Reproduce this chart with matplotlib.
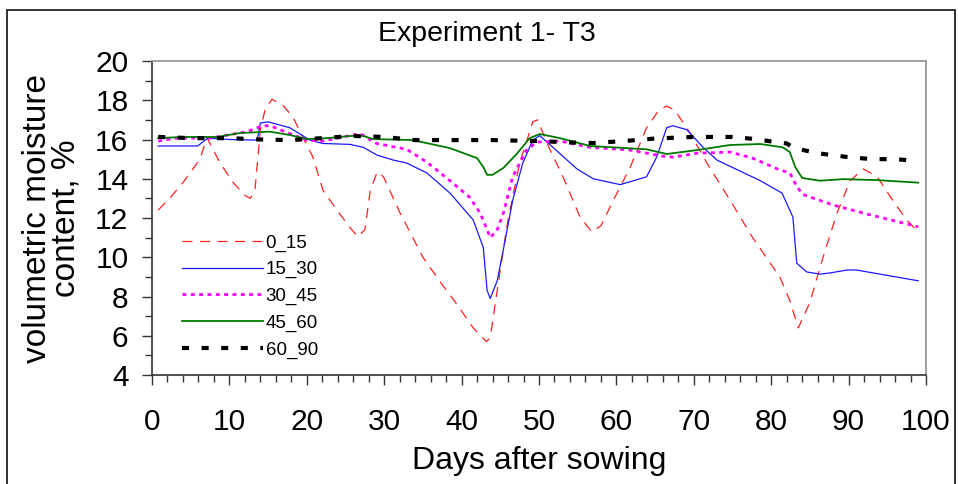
import matplotlib
matplotlib.use("Agg")
import matplotlib.pyplot as plt
from matplotlib.ticker import MultipleLocator
from matplotlib.patches import Rectangle

plt.rcParams['font.family'] = ['Liberation Sans', 'DejaVu Sans']

# ---- data ----
days_0_15 = [0.8, 2.5, 4.0, 6.2, 7.1, 8.8, 10.5, 12.0, 12.7, 13.3, 14.0, 14.6, 15.5, 16.9, 18.2,
             19.5, 20.8, 22.1, 23.9, 25.6, 26.6, 27.5, 28.2, 29.1, 29.9, 32.0, 35.0, 37.5, 39.4,
             41.5, 43.2, 43.7, 44.6, 45.9, 47.5, 49.2, 49.8, 51.4, 53.1, 55.3, 56.8, 58.0, 59.6,
             61.8, 63.9, 65.5, 66.5, 67.5, 69.1, 71.7, 74.7, 77.6, 81.1, 82.4, 83.5, 85.0, 86.7,
             88.5, 90.2, 91.9, 93.7, 95.7, 97.5, 99.0]
vals_0_15 = [12.4, 13.1, 13.8, 15.0, 16.1, 14.8, 13.8, 13.15, 13.0, 13.4, 16.5, 17.5, 18.05, 17.75, 17.15,
             16.1, 15.1, 13.4, 12.4, 11.5, 11.05, 11.4, 13.4, 14.35, 14.1, 12.3, 10.0, 8.6, 7.6,
             6.4, 5.7, 5.9, 8.3, 11.7, 14.8, 16.9, 17.0, 15.5, 14.1, 12.05, 11.3, 11.6, 12.9,
             14.6, 16.6, 17.5, 17.7, 17.5, 16.6, 14.8, 12.9, 11.0, 9.0, 7.8, 6.4, 7.7, 10.0,
             12.25, 13.9, 14.5, 14.1, 12.9, 11.9, 11.3]

days_15_30 = [0.8, 5.9, 7.2, 10.0, 13.6, 14.0, 15.0, 17.8, 20.4, 22.0, 25.6, 27.3, 29.1, 31.2, 32.9,
              35.5, 38.5, 41.5, 42.8, 43.3, 43.7, 44.6, 45.4, 46.6, 47.9, 49.2, 50.1, 51.8, 54.9,
              57.0, 60.5, 63.9, 65.2, 66.5, 67.3, 69.1, 71.2, 73.0, 78.6, 81.4, 82.8, 83.3, 84.6,
              86.3, 87.6, 89.8, 91.0, 99.0]
vals_15_30 = [15.67, 15.67, 16.07, 16.0, 15.97, 16.84, 16.9, 16.6, 15.97, 15.8, 15.75, 15.6, 15.2, 14.95, 14.8,
              14.3, 13.27, 11.9, 10.5, 8.3, 7.9, 8.8, 10.4, 12.9, 14.8, 15.97, 16.2, 15.6, 14.5,
              14.0, 13.7, 14.1, 15.1, 16.6, 16.7, 16.5, 15.6, 14.95, 13.9, 13.27, 12.05, 9.7, 9.25,
              9.14, 9.2, 9.35, 9.35, 8.8]

days_30_45 = [0.8, 3.2, 7.5, 12.3, 14.3, 15.3, 17.8, 20.0, 22.0, 23.9, 26.9, 29.0, 32.9, 35.5, 38.5,
              41.0, 42.4, 43.3, 43.7, 44.6, 45.4, 46.6, 48.4, 49.7, 52.7, 56.6, 61.8, 66.0, 67.3,
              70.4, 74.7, 77.6, 81.1, 82.4, 83.3, 84.1, 88.0, 92.4, 97.5, 99.0]
vals_30_45 = [15.92, 16.07, 16.07, 16.4, 16.7, 16.7, 16.3, 15.97, 15.92, 16.07, 16.3, 15.8, 15.5, 14.85, 13.9,
              13.07, 12.25, 11.4, 11.0, 11.4, 12.25, 14.1, 15.46, 15.87, 15.92, 15.6, 15.46, 15.15, 15.1,
              15.3, 15.36, 15.05, 14.45, 14.3, 13.6, 13.2, 12.66, 12.2, 11.7, 11.55]

days_45_60 = [0.8, 4.0, 8.4, 11.4, 14.0, 15.2, 17.8, 20.0, 22.6, 25.6, 27.3, 28.6, 33.7, 38.5, 42.0,
              42.8, 43.3, 44.0, 45.4, 47.2, 48.8, 50.1, 52.7, 56.6, 63.9, 66.5, 70.4, 74.7, 78.6,
              81.5, 82.4, 83.1, 84.0, 86.3, 89.3, 93.7, 99.0]
vals_45_60 = [16.07, 16.13, 16.13, 16.33, 16.38, 16.4, 16.23, 16.02, 16.07, 16.18, 16.18, 16.02, 15.97, 15.56, 15.05,
              14.6, 14.2, 14.2, 14.55, 15.3, 16.07, 16.28, 16.07, 15.67, 15.5, 15.26, 15.46, 15.72, 15.77,
              15.6, 15.36, 14.6, 14.04, 13.9, 13.98, 13.93, 13.8]

days_60_90 = [0.8, 5.0, 10.0, 14.0, 18.0, 22.0, 26.0, 30.0, 34.0, 44.0, 50.0, 54.0, 57.0, 61.0, 65.0,
              70.0, 75.0, 78.0, 80.0, 82.0, 83.0, 86.0, 88.0, 90.0, 93.0, 96.0, 99.0]
vals_60_90 = [16.13, 16.07, 16.07, 16.0, 15.97, 16.07, 16.18, 16.13, 15.97, 15.97, 15.92, 15.85, 15.82, 15.92, 16.05,
              16.13, 16.13, 16.02, 15.9, 15.8, 15.56, 15.3, 15.2, 15.1, 15.0, 15.0, 14.9]

labels = ["0_15", "15_30", "30_45", "45_60", "60_90"]
title = "Experiment 1- T3"
xlabel = "Days after sowing"
ylabel = "volumetric moisture\ncontent, %"

# ---- figure ----
fig = plt.figure(figsize=(9.58, 4.84), dpi=100)
ax = fig.add_axes([152/958, 1-375/484, (926-152)/958, (375-61)/484])

ax.plot(days_0_15, vals_0_15, color='#FF2020', lw=0.9, dashes=(8, 6), label=labels[0])
ax.plot(days_15_30, vals_15_30, color='#1a1aff', lw=0.9, label=labels[1])
ax.plot(days_30_45, vals_30_45, color='#FF00FF', lw=2.0, dashes=(1.4, 1.6), label=labels[2])
ax.plot(days_45_60, vals_45_60, color='#007a00', lw=1.3, label=labels[3])
ax.plot(days_60_90, vals_60_90, color='black', lw=3.0, dashes=(1.7, 3.0), label=labels[4])

ax.set_xlim(0, 100)
ax.set_ylim(4, 20)
ax.xaxis.set_major_locator(MultipleLocator(10))
ax.xaxis.set_minor_locator(MultipleLocator(2))
ax.yaxis.set_major_locator(MultipleLocator(2))
ax.yaxis.set_minor_locator(MultipleLocator(1))

ax.tick_params(axis='both', which='major', length=7, width=1.0, color='#333333',
               labelsize=21.5, direction='out')
ax.tick_params(axis='x', which='major', pad=17)
ax.tick_params(axis='y', which='major', pad=10)
ax.tick_params(axis='both', which='minor', length=5, width=1.0, color='#333333', direction='out')

for s in ['left', 'bottom']:
    ax.spines[s].set_color('#333333')
    ax.spines[s].set_linewidth(1.2)
for s in ['top', 'right']:
    ax.spines[s].set_color('#9a9a9a')
    ax.spines[s].set_linewidth(1.3)

ax.set_xlabel(xlabel, fontsize=23, labelpad=7)
ax.set_ylabel(ylabel, fontsize=24, labelpad=10, linespacing=0.88)
fig.text(487/958, 1-34/484, title, ha='center', va='center', fontsize=20.5)

leg = ax.legend(loc='center left', bbox_to_anchor=(0.039, 0.25), frameon=False,
                fontsize=13.5, handlelength=4.3, handletextpad=0.15, labelspacing=0.5,
                borderpad=0, borderaxespad=0)

fig.patches.append(Rectangle((7/958, -0.05), (955-7)/958, 1-10/484+0.05,
                             transform=fig.transFigure, fill=False,
                             edgecolor='#222222', lw=1.3))

fig.savefig("out.png", dpi=100)
